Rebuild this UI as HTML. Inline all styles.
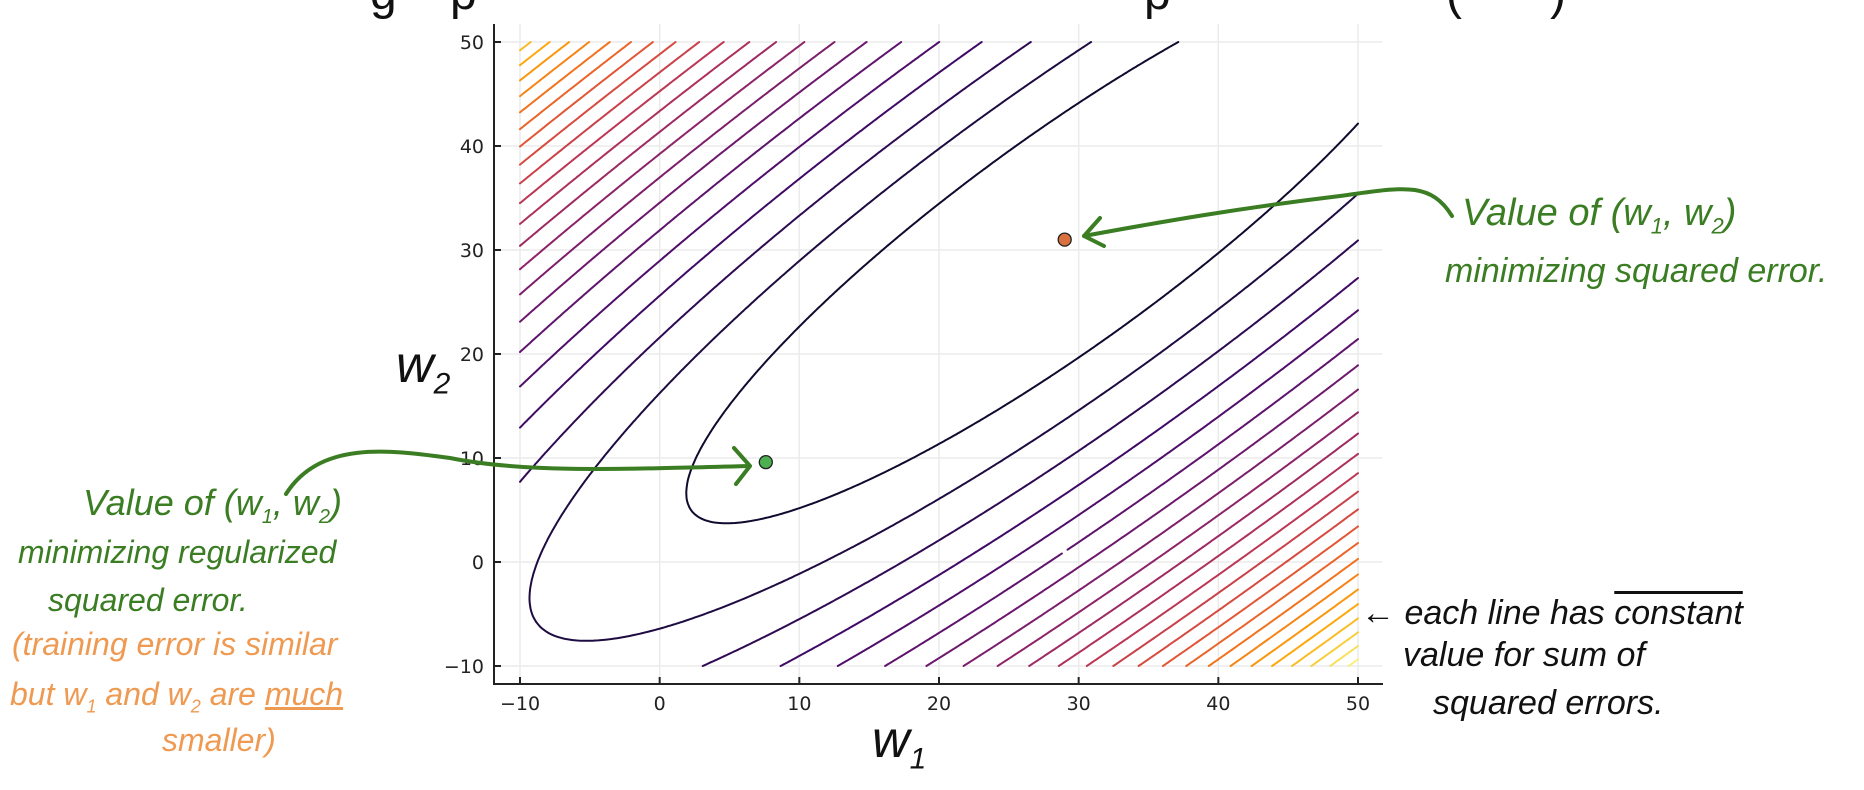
<!DOCTYPE html>
<html><head><meta charset="utf-8"><style>
html,body{margin:0;padding:0;background:#fff;}
#root{position:relative;width:1864px;height:790px;overflow:hidden;font-family:"Liberation Sans",sans-serif;}
.hw{position:absolute;white-space:nowrap;font-family:"Liberation Sans Narrow","Liberation Sans",sans-serif;font-style:italic;}
.g{color:#3b7d23;}.o{color:#ef9a52;}.k{color:#111;}
.t{position:absolute;top:-34px;font-size:48px;color:#111;}
</style></head><body>
<div id="root">
<span class="t" style="left:370px">g</span>
<span class="t" style="left:450px">p</span>
<span class="t" style="left:1144px">p</span>
<span class="t" style="left:1446px">(</span>
<span class="t" style="left:1550px">)</span>
<svg id="chart" width="1864" height="790" style="position:absolute;left:0;top:0"></svg>

<div class="hw k" style="left:396px;top:335px;font-size:52px;">w<sub style="font-size:30px">2</sub></div>
<div class="hw k" style="left:872px;top:710px;font-size:52px;">w<sub style="font-size:30px">1</sub></div>

<div class="hw g" style="left:1462px;top:192px;font-size:38px;">Value of (w<sub style="font-size:22px">1</sub>, w<sub style="font-size:22px">2</sub>)</div>
<div class="hw g" style="left:1445px;top:252px;font-size:34px;">minimizing squared error.</div>

<div class="hw g" style="left:83px;top:482px;font-size:36px;">Value of (w<sub style="font-size:20px">1</sub>, w<sub style="font-size:20px">2</sub>)</div>
<div class="hw g" style="left:18px;top:534px;font-size:32px;">minimizing regularized</div>
<div class="hw g" style="left:48px;top:582px;font-size:32px;">squared error.</div>

<div class="hw o" style="left:12px;top:626px;font-size:32px;">(training error is similar</div>
<div class="hw o" style="left:10px;top:676px;font-size:32px;">but w<sub style="font-size:18px">1</sub> and w<sub style="font-size:18px">2</sub> are <u>much</u></div>
<div class="hw o" style="left:162px;top:722px;font-size:32px;">smaller)</div>

<div class="hw k" style="left:1361px;top:594px;font-size:34px;">← each line has <span style="text-decoration:overline">constant</span></div>
<div class="hw k" style="left:1403px;top:636px;font-size:34px;">value for sum of</div>
<div class="hw k" style="left:1433px;top:684px;font-size:34px;">squared errors.</div>
</div>
<script>
const xTicks=[-10,0,10,20,30,40,50];
const yTicks=[-10,0,10,20,30,40,50];
const center=[29,31];
const quadCoef=[1.0136,-0.8996,1.0];
const levels=[150,300,450,600,750,900,1050,1200,1350,1500,1650,1800,1950,2100,2250,2400,2550,2700,2850,3000,3150,3300,3450,3600];
const colorMax=3750;
const pointLS=[29,31];
const pointReg=[7.6,9.6];

const X0=520,X1=1358,Y0=666,Y1=42;
const sx=v=>X0+(v+10)*(X1-X0)/60;
const sy=v=>Y0-(v+10)*(Y0-Y1)/60;
const NS='http://www.w3.org/2000/svg';
const svg=document.getElementById('chart');
function mk(t,a,p){const e=document.createElementNS(NS,t);for(const k in a)e.setAttribute(k,a[k]);(p||svg).appendChild(e);return e;}

const grid=mk('g',{});


xTicks.forEach(v=>{mk('line',{x1:sx(v),x2:sx(v),y1:24,y2:684,stroke:'#ebebeb','stroke-width':1.5},grid);});
yTicks.forEach(v=>{mk('line',{x1:494,x2:1382,y1:sy(v),y2:sy(v),stroke:'#ebebeb','stroke-width':1.5},grid);});

const stops=[[0,[0,0,4]],[0.1,[22,11,57]],[0.2,[66,10,104]],[0.3,[106,23,110]],[0.4,[147,38,103]],[0.5,[188,55,84]],[0.6,[221,81,58]],[0.7,[243,118,27]],[0.8,[252,165,10]],[0.9,[246,215,70]],[1,[252,255,164]]];
function cmap(t){t=Math.max(0,Math.min(1,t));for(let i=1;i<stops.length;i++){if(t<=stops[i][0]){const a=stops[i-1],b=stops[i];const f=(t-a[0])/(b[0]-a[0]);return 'rgb('+a[1].map((c,j)=>Math.round(c+(b[1][j]-c)*f)).join(',')+')';}}return 'rgb(252,255,164)';}
function f(x,y){const u=x-center[0],v=y-center[1];return quadCoef[0]*u*u+2*quadCoef[1]*u*v+quadCoef[2]*v*v;}

const N=300,h=60/N;
const F=[];for(let i=0;i<=N;i++){F.push([]);for(let j=0;j<=N;j++)F[i].push(f(-10+i*h,-10+j*h));}
const cg=mk('g',{fill:'none','stroke-width':2,'stroke-linecap':'round'});


levels.forEach((L,li)=>{
  let d='';
  for(let i=0;i<N;i++){
    for(let j=0;j<N;j++){
      const xa=-10+i*h,ya=-10+j*h;
      const c=[[xa,ya,F[i][j]],[xa+h,ya,F[i+1][j]],[xa+h,ya+h,F[i+1][j+1]],[xa,ya+h,F[i][j+1]]];
      const pts=[];
      for(let k=0;k<4;k++){const p=c[k],q=c[(k+1)%4];if((p[2]-L)*(q[2]-L)<0){const t=(L-p[2])/(q[2]-p[2]);pts.push([p[0]+(q[0]-p[0])*t,p[1]+(q[1]-p[1])*t]);}}
      for(let k=0;k+1<pts.length;k+=2){d+='M'+sx(pts[k][0]).toFixed(1)+' '+sy(pts[k][1]).toFixed(1)+'L'+sx(pts[k+1][0]).toFixed(1)+' '+sy(pts[k+1][1]).toFixed(1);}
    }
  }
  const p=mk('path',{d:d,stroke:cmap(0.04+0.96*L/colorMax)},cg);
  
  
});

const ax=mk('g',{stroke:'#222','stroke-width':2});


mk('line',{x1:494,x2:494,y1:24,y2:685},ax);
mk('line',{x1:493,x2:1383,y1:684,y2:684},ax);
xTicks.forEach(v=>{mk('line',{x1:sx(v),x2:sx(v),y1:684,y2:677},ax);
  const t=mk('text',{x:sx(v),y:710,'text-anchor':'middle','font-size':19,fill:'#222',stroke:'none','font-family':'DejaVu Sans, sans-serif'});t.textContent=v===-10?'\u221210':v;
  
  });
yTicks.forEach(v=>{mk('line',{x1:494,x2:501,y1:sy(v),y2:sy(v)},ax);
  const t=mk('text',{x:484,y:sy(v)+7,'text-anchor':'end','font-size':19,fill:'#222',stroke:'none','font-family':'DejaVu Sans, sans-serif'});t.textContent=v===-10?'\u221210':v;
  
  });

const pa=mk('circle',{cx:sx(pointLS[0]),cy:sy(pointLS[1]),r:6.5,fill:'#d9703f',stroke:'#222','stroke-width':1.3});


const pb=mk('circle',{cx:sx(pointReg[0]),cy:sy(pointReg[1]),r:6.5,fill:'#4caf50',stroke:'#222','stroke-width':1.3});



const arr=mk('g',{fill:'none',stroke:'#3b7d23','stroke-width':4,'stroke-linecap':'round','stroke-linejoin':'round'});


mk('path',{d:'M1452 216 C1430 180 1400 188 1340 196 C1240 208 1160 222 1084 236 M1100 218 L1084 236 L1104 246'},arr);
mk('path',{d:'M286 494 C320 440 390 450 450 458 C520 472 600 470 748 466 M734 448 L750 466 L736 484'},arr);
</script>
</body></html>
